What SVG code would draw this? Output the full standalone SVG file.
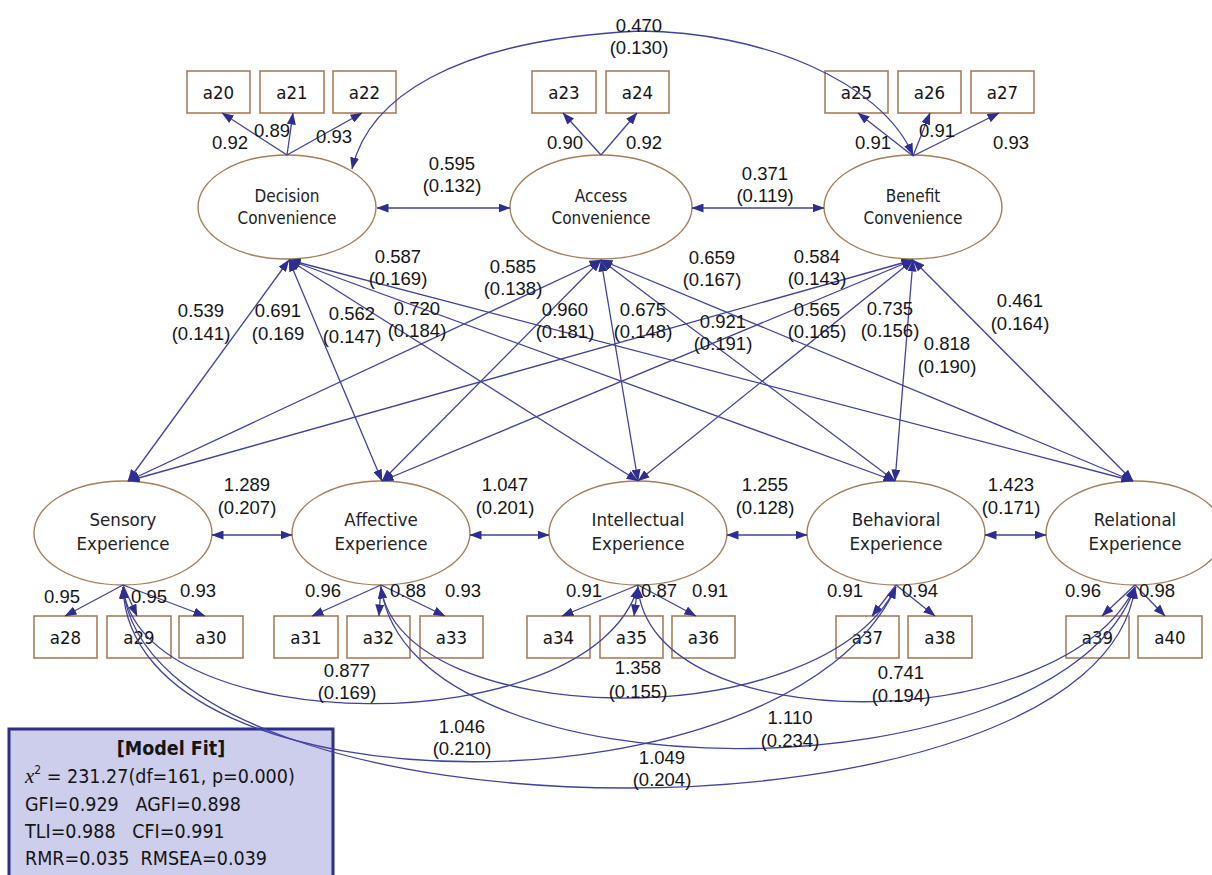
<svg xmlns="http://www.w3.org/2000/svg" width="1212" height="875" viewBox="0 0 1212 875">
<style>
.c{fill:none;stroke:#4141a0;stroke-width:1.3}
.bi{marker-start:url(#ah);marker-end:url(#ah)}
.one{marker-end:url(#ah)}
.lat{fill:#fff;stroke:#a57f5c;stroke-width:1.4}
.box{fill:#fff;stroke:#a57f5c;stroke-width:1.6}
.n{font-family:"Liberation Sans",Arial,sans-serif;font-size:18.5px;text-anchor:middle;fill:#151515}
.lt{font-family:"DejaVu Sans Condensed","DejaVu Sans",sans-serif;font-size:17px;text-anchor:middle;fill:#222}
.lt2{font-family:"DejaVu Sans Condensed","DejaVu Sans",sans-serif;font-size:18.5px;text-anchor:middle;fill:#222}
.bt{font-family:"DejaVu Sans Condensed","DejaVu Sans",sans-serif;font-size:18.5px;text-anchor:middle;fill:#151515}
.mf{font-family:"DejaVu Sans Condensed","DejaVu Sans",sans-serif;font-size:19.5px;fill:#151515}
</style>
<defs>
<marker id="ah" viewBox="0 0 12 9" refX="11.5" refY="4.5" markerWidth="12" markerHeight="9" markerUnits="userSpaceOnUse" orient="auto-start-reverse"><path d="M0,0 L12,4.5 L0,9 z" fill="#2e2e92"/></marker>
</defs>
<rect width="1212" height="875" fill="#fff"/>

<g id="model-fit">
<rect x="9" y="729" width="324" height="160" fill="#cdcdec" stroke="#2e2e86" stroke-width="3"/>
<text class="mf" x="171" y="755" text-anchor="middle" font-weight="bold">[Model Fit]</text>
<text class="mf" x="25" y="783"><tspan font-family="Liberation Serif,serif" font-style="italic" font-size="21px">x</tspan><tspan font-size="12px" dy="-9">2</tspan><tspan dy="9"> = 231.27(df=161, p=0.000)</tspan></text>
<text class="mf" x="25" y="811" xml:space="preserve">GFI=0.929   AGFI=0.898</text>
<text class="mf" x="25" y="838" xml:space="preserve">TLI=0.988   CFI=0.991</text>
<text class="mf" x="25" y="865" xml:space="preserve">RMR=0.035  RMSEA=0.039</text>
</g>

<g id="decision"><ellipse class="lat" cx="287" cy="207" rx="89" ry="52"/><text class="lt" x="287" y="202">Decision</text><text class="lt" x="287" y="224">Convenience</text></g>
<g id="access"><ellipse class="lat" cx="601" cy="207" rx="91" ry="52"/><text class="lt" x="601" y="202">Access</text><text class="lt" x="601" y="224">Convenience</text></g>
<g id="benefit"><ellipse class="lat" cx="913" cy="207" rx="89" ry="52"/><text class="lt" x="913" y="202">Benefit</text><text class="lt" x="913" y="224">Convenience</text></g>
<g id="sensory"><ellipse class="lat" cx="123" cy="533" rx="89" ry="52"/><text class="lt2" x="123" y="526">Sensory</text><text class="lt2" x="123" y="550">Experience</text></g>
<g id="affective"><ellipse class="lat" cx="381" cy="533" rx="89" ry="52"/><text class="lt2" x="381" y="526">Affective</text><text class="lt2" x="381" y="550">Experience</text></g>
<g id="intellectual"><ellipse class="lat" cx="638" cy="533" rx="89" ry="52"/><text class="lt2" x="638" y="526">Intellectual</text><text class="lt2" x="638" y="550">Experience</text></g>
<g id="behavioral"><ellipse class="lat" cx="896" cy="533" rx="89" ry="52"/><text class="lt2" x="896" y="526">Behavioral</text><text class="lt2" x="896" y="550">Experience</text></g>
<g id="relational"><ellipse class="lat" cx="1135" cy="533" rx="89" ry="52"/><text class="lt2" x="1135" y="526">Relational</text><text class="lt2" x="1135" y="550">Experience</text></g>

<g id="a20"><rect class="box" x="187" y="71" width="63" height="42"/><text class="bt" x="218.5" y="99">a20</text></g>
<g id="a21"><rect class="box" x="260" y="71" width="64" height="42"/><text class="bt" x="292" y="99">a21</text></g>
<g id="a22"><rect class="box" x="333" y="71" width="63" height="42"/><text class="bt" x="364.5" y="99">a22</text></g>
<g id="a23"><rect class="box" x="532" y="71" width="64" height="42"/><text class="bt" x="564" y="99">a23</text></g>
<g id="a24"><rect class="box" x="606" y="71" width="63" height="42"/><text class="bt" x="637.5" y="99">a24</text></g>
<g id="a25"><rect class="box" x="825" y="71" width="63" height="42"/><text class="bt" x="856.5" y="99">a25</text></g>
<g id="a26"><rect class="box" x="898" y="71" width="63" height="42"/><text class="bt" x="929.5" y="99">a26</text></g>
<g id="a27"><rect class="box" x="971" y="71" width="63" height="42"/><text class="bt" x="1002.5" y="99">a27</text></g>
<g id="a28"><rect class="box" x="34" y="616" width="63" height="42"/><text class="bt" x="65.5" y="644">a28</text></g>
<g id="a29"><rect class="box" x="107" y="616" width="64" height="42"/><text class="bt" x="139" y="644">a29</text></g>
<g id="a30"><rect class="box" x="179" y="616" width="64" height="42"/><text class="bt" x="211" y="644">a30</text></g>
<g id="a31"><rect class="box" x="274" y="616" width="64" height="42"/><text class="bt" x="306" y="644">a31</text></g>
<g id="a32"><rect class="box" x="347" y="616" width="63" height="42"/><text class="bt" x="378.5" y="644">a32</text></g>
<g id="a33"><rect class="box" x="420" y="616" width="63" height="42"/><text class="bt" x="451.5" y="644">a33</text></g>
<g id="a34"><rect class="box" x="527" y="616" width="63" height="42"/><text class="bt" x="558.5" y="644">a34</text></g>
<g id="a35"><rect class="box" x="600" y="616" width="63" height="42"/><text class="bt" x="631.5" y="644">a35</text></g>
<g id="a36"><rect class="box" x="672" y="616" width="63" height="42"/><text class="bt" x="703.5" y="644">a36</text></g>
<g id="a37"><rect class="box" x="836" y="616" width="63" height="42"/><text class="bt" x="867.5" y="644">a37</text></g>
<g id="a38"><rect class="box" x="908" y="616" width="64" height="42"/><text class="bt" x="940" y="644">a38</text></g>
<g id="a39"><rect class="box" x="1066" y="616" width="63" height="42"/><text class="bt" x="1097.5" y="644">a39</text></g>
<g id="a40"><rect class="box" x="1138" y="616" width="64" height="42"/><text class="bt" x="1170" y="644">a40</text></g>

<g id="connectors">
<path class="c bi" d="M352,169 C368,100 450,40 640,31 C760,32 880,80 913,155"/>
<path class="c bi" d="M377,208 H510"/>
<path class="c bi" d="M692,208 H824"/>
<path class="c one" d="M287,155 L222,113"/>
<path class="c one" d="M287,155 L293,113"/>
<path class="c one" d="M287,155 L362,113"/>
<path class="c one" d="M601,155 L563,113"/>
<path class="c one" d="M601,155 L637,113"/>
<path class="c one" d="M913,156 L858,113"/>
<path class="c one" d="M913,156 L930,113"/>
<path class="c one" d="M913,156 L999,113"/>
<path class="c bi" d="M289,260 L128,481"/>
<path class="c bi" d="M289,260 L382,481"/>
<path class="c bi" d="M289,260 L638,481"/>
<path class="c bi" d="M289,260 L895,481"/>
<path class="c bi" d="M289,260 L1133,481"/>
<path class="c bi" d="M601,260 L128,481"/>
<path class="c bi" d="M601,260 L382,481"/>
<path class="c bi" d="M601,260 L638,481"/>
<path class="c bi" d="M601,260 L895,481"/>
<path class="c bi" d="M601,260 L1133,481"/>
<path class="c bi" d="M913,260 L128,481"/>
<path class="c bi" d="M913,260 L382,481"/>
<path class="c bi" d="M913,260 L638,481"/>
<path class="c bi" d="M913,260 L895,481"/>
<path class="c bi" d="M913,260 L1133,481"/>
<path class="c bi" d="M212,535 H292"/>
<path class="c bi" d="M470,535 H549"/>
<path class="c bi" d="M727,535 H807"/>
<path class="c bi" d="M985,535 H1046"/>
<path class="c one" d="M123,585 L65,616"/>
<path class="c one" d="M123,585 L137,616"/>
<path class="c one" d="M123,585 L205,616"/>
<path class="c one" d="M381,585 L312,616"/>
<path class="c one" d="M381,585 L379,616"/>
<path class="c one" d="M381,585 L445,616"/>
<path class="c one" d="M638,585 L562,616"/>
<path class="c one" d="M638,585 L634,616"/>
<path class="c one" d="M638,585 L696,616"/>
<path class="c one" d="M896,585 L872,616"/>
<path class="c one" d="M896,585 L935,616"/>
<path class="c one" d="M1135,585 L1102,616"/>
<path class="c one" d="M1135,585 L1165,616"/>
<path class="c bi" d="M123,587 C140,740 590,745 638,587"/>
<path class="c bi" d="M381,587 C400,730 820,740 896,587"/>
<path class="c bi" d="M638,587 C650,740 1060,740 1135,587"/>
<path class="c bi" d="M123,587 C130,820 790,820 896,587"/>
<path class="c bi" d="M381,587 C410,805 1060,800 1135,587"/>
<path class="c bi" d="M123,587 C150,855 1100,855 1135,587"/>
</g>

<g id="labels">
<text class="n" x="639" y="32">0.470</text><text class="n" x="639" y="54">(0.130)</text>
<text class="n" x="230" y="149">0.92</text>
<text class="n" x="272" y="137">0.89</text>
<text class="n" x="334" y="143">0.93</text>
<text class="n" x="565" y="149">0.90</text>
<text class="n" x="644" y="149">0.92</text>
<text class="n" x="873" y="149">0.91</text>
<text class="n" x="937" y="137">0.91</text>
<text class="n" x="1011" y="149">0.93</text>
<text class="n" x="452" y="170">0.595</text><text class="n" x="452" y="192">(0.132)</text>
<text class="n" x="765" y="180">0.371</text><text class="n" x="765" y="202">(0.119)</text>
<text class="n" x="398" y="263">0.587</text><text class="n" x="398" y="285">(0.169)</text>
<text class="n" x="513" y="273">0.585</text><text class="n" x="513" y="295">(0.138)</text>
<text class="n" x="712" y="264">0.659</text><text class="n" x="712" y="286">(0.167)</text>
<text class="n" x="817" y="263">0.584</text><text class="n" x="817" y="285">(0.143)</text>
<text class="n" x="201" y="317">0.539</text><text class="n" x="201" y="340">(0.141)</text>
<text class="n" x="278" y="317">0.691</text><text class="n" x="278" y="340">(0.169</text>
<text class="n" x="352" y="320">0.562</text><text class="n" x="352" y="343">(0.147)</text>
<text class="n" x="417" y="315">0.720</text><text class="n" x="417" y="337">(0.184)</text>
<text class="n" x="565" y="316">0.960</text><text class="n" x="565" y="338">(0.181)</text>
<text class="n" x="643" y="316">0.675</text><text class="n" x="643" y="338">(0.148)</text>
<text class="n" x="723" y="328">0.921</text><text class="n" x="723" y="350">(0.191)</text>
<text class="n" x="817" y="316">0.565</text><text class="n" x="817" y="338">(0.165)</text>
<text class="n" x="890" y="315">0.735</text><text class="n" x="890" y="337">(0.156)</text>
<text class="n" x="947" y="350">0.818</text><text class="n" x="947" y="373">(0.190)</text>
<text class="n" x="1020" y="307">0.461</text><text class="n" x="1020" y="330">(0.164)</text>
<text class="n" x="247" y="491">1.289</text><text class="n" x="247" y="514">(0.207)</text>
<text class="n" x="505" y="491">1.047</text><text class="n" x="505" y="514">(0.201)</text>
<text class="n" x="765" y="491">1.255</text><text class="n" x="765" y="514">(0.128)</text>
<text class="n" x="1011" y="491">1.423</text><text class="n" x="1011" y="514">(0.171)</text>
<text class="n" x="62" y="603">0.95</text>
<text class="n" x="149" y="603">0.95</text>
<text class="n" x="198" y="597">0.93</text>
<text class="n" x="323" y="597">0.96</text>
<text class="n" x="408" y="597">0.88</text>
<text class="n" x="463" y="597">0.93</text>
<text class="n" x="584" y="597">0.91</text>
<text class="n" x="659" y="597">0.87</text>
<text class="n" x="710" y="597">0.91</text>
<text class="n" x="845" y="597">0.91</text>
<text class="n" x="920" y="597">0.94</text>
<text class="n" x="1083" y="597">0.96</text>
<text class="n" x="1157" y="597">0.98</text>
<text class="n" x="347" y="677">0.877</text><text class="n" x="347" y="699">(0.169)</text>
<text class="n" x="638" y="674">1.358</text><text class="n" x="638" y="698">(0.155)</text>
<text class="n" x="901" y="679">0.741</text><text class="n" x="901" y="702">(0.194)</text>
<text class="n" x="462" y="733">1.046</text><text class="n" x="462" y="755">(0.210)</text>
<text class="n" x="790" y="724">1.110</text><text class="n" x="790" y="747">(0.234)</text>
<text class="n" x="662" y="764">1.049</text><text class="n" x="662" y="786">(0.204)</text>
</g>
</svg>
